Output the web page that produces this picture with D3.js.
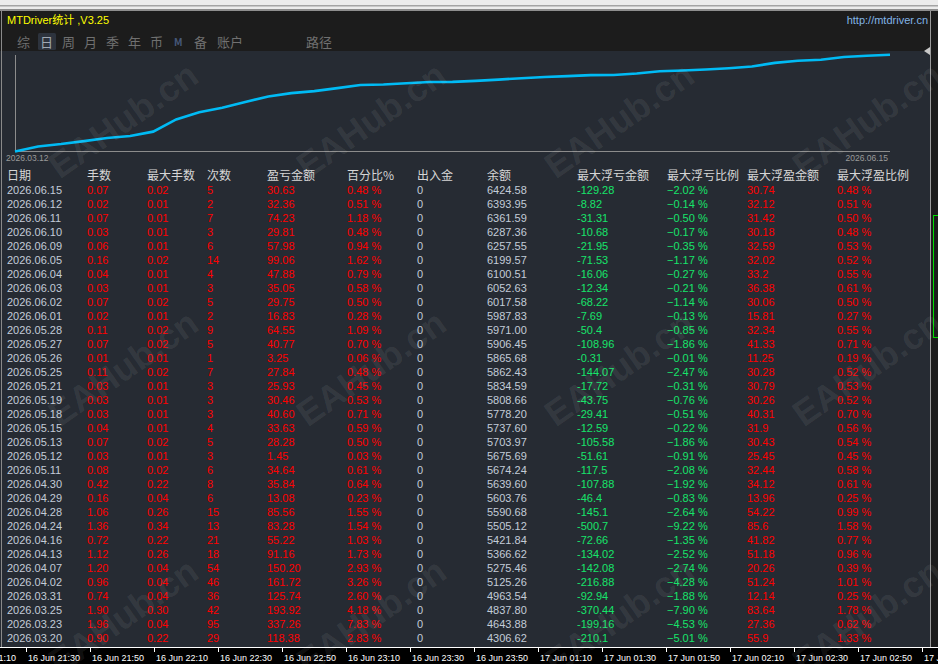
<!DOCTYPE html>
<html lang="zh">
<head>
<meta charset="UTF-8">
<title>MTDriver统计</title>
<script src="https://d3js.org/d3.v7.min.js"></script>
<style>
  body { margin: 0; background: #1c1c1c; overflow: hidden; }
  svg { display: block; font-family: "Liberation Sans", Arial, "Noto Sans CJK SC", sans-serif; }
  .cjk { font-family: "Noto Sans CJK SC", "Liberation Sans", sans-serif; }
</style>
</head>
<body>
<svg width="938" height="664"></svg>
<script>
// daily stats, newest first (as listed in the panel)
const dates = ["2026.06.15","2026.06.12","2026.06.11","2026.06.10","2026.06.09","2026.06.05","2026.06.04","2026.06.03","2026.06.02","2026.06.01","2026.05.28","2026.05.27","2026.05.26","2026.05.25","2026.05.21","2026.05.19","2026.05.18","2026.05.15","2026.05.13","2026.05.12","2026.05.11","2026.04.30","2026.04.29","2026.04.28","2026.04.24","2026.04.16","2026.04.13","2026.04.07","2026.04.02","2026.03.31","2026.03.25","2026.03.23","2026.03.20"];
const lots = [0.07,0.02,0.07,0.03,0.06,0.16,0.04,0.03,0.07,0.02,0.11,0.07,0.01,0.11,0.03,0.03,0.03,0.04,0.07,0.03,0.08,0.42,0.16,1.06,1.36,0.72,1.12,1.20,0.96,0.74,1.90,1.96,0.90];
const maxLots = [0.02,0.01,0.01,0.01,0.01,0.02,0.01,0.01,0.02,0.01,0.02,0.02,0.01,0.02,0.01,0.01,0.01,0.01,0.02,0.01,0.02,0.22,0.04,0.26,0.34,0.22,0.26,0.04,0.04,0.04,0.30,0.04,0.22];
const trades = [5,2,7,3,6,14,4,3,5,2,9,5,1,7,3,3,3,4,5,3,6,8,6,15,13,21,18,54,46,36,42,95,29];
const profit = [30.63,32.36,74.23,29.81,57.98,99.06,47.88,35.05,29.75,16.83,64.55,40.77,3.25,27.84,25.93,30.46,40.60,33.63,28.28,1.45,34.64,35.84,13.08,85.56,83.28,55.22,91.16,150.20,161.72,125.74,193.92,337.26,118.38];
const profitPct = [0.48,0.51,1.18,0.48,0.94,1.62,0.79,0.58,0.50,0.28,1.09,0.70,0.06,0.48,0.45,0.53,0.71,0.59,0.50,0.03,0.61,0.64,0.23,1.55,1.54,1.03,1.73,2.93,3.26,2.60,4.18,7.83,2.83];
const deposits = [0,0,0,0,0,0,0,0,0,0,0,0,0,0,0,0,0,0,0,0,0,0,0,0,0,0,0,0,0,0,0,0,0];
const balance = [6424.58,6393.95,6361.59,6287.36,6257.55,6199.57,6100.51,6052.63,6017.58,5987.83,5971.00,5906.45,5865.68,5862.43,5834.59,5808.66,5778.20,5737.60,5703.97,5675.69,5674.24,5639.60,5603.76,5590.68,5505.12,5421.84,5366.62,5275.46,5125.26,4963.54,4837.80,4643.88,4306.62];
const maxLoss = [-129.28,-8.82,-31.31,-10.68,-21.95,-71.53,-16.06,-12.34,-68.22,-7.69,-50.4,-108.96,-0.31,-144.07,-17.72,-43.75,-29.41,-12.59,-105.58,-51.61,-117.5,-107.88,-46.4,-145.1,-500.7,-72.66,-134.02,-142.08,-216.88,-92.94,-370.44,-199.16,-210.1];
const maxLossPct = [-2.02,-0.14,-0.50,-0.17,-0.35,-1.17,-0.27,-0.21,-1.14,-0.13,-0.85,-1.86,-0.01,-2.47,-0.31,-0.76,-0.51,-0.22,-1.86,-0.91,-2.08,-1.92,-0.83,-2.64,-9.22,-1.35,-2.52,-2.74,-4.28,-1.88,-7.90,-4.53,-5.01];
const maxGain = [30.74,32.12,31.42,30.18,32.59,32.02,33.2,36.38,30.06,15.81,32.34,41.33,11.25,30.28,30.79,30.26,40.31,31.9,30.43,25.45,32.44,34.12,13.96,54.22,85.6,41.82,51.18,20.26,51.24,12.14,83.64,27.36,55.9];
const maxGainPct = [0.48,0.51,0.50,0.48,0.53,0.52,0.55,0.61,0.50,0.27,0.55,0.71,0.19,0.52,0.53,0.52,0.70,0.56,0.54,0.45,0.58,0.61,0.25,0.99,1.58,0.77,0.96,0.39,1.01,0.25,1.78,0.62,1.33];

// balance of the days before 2026.03.20
const earlyBalance = [3760, 3900, 3965, 4045, 4130, 4188];

const headers = ["日期","手数","最大手数","次数","盈亏金额","百分比%","出入金","余额","最大浮亏金额","最大浮亏比例","最大浮盈金额","最大浮盈比例"];
const tabs = ["综","日","周","月","季","年","币","M","备","账户","路径"];
const timeLabels = ["16 Jun 21:10","16 Jun 21:30","16 Jun 21:50","16 Jun 22:10","16 Jun 22:30","16 Jun 22:50","16 Jun 23:10","16 Jun 23:30","16 Jun 23:50","17 Jun 01:10","17 Jun 01:30","17 Jun 01:50","17 Jun 02:10","17 Jun 02:30","17 Jun 02:50","17 Jun 03:10"];

const W = 938, H = 664;
const svg = d3.select("svg");

// window frame
svg.append("rect").attr("width", W).attr("height", H).attr("fill", "#1c1c1c");
svg.append("rect").attr("width", W).attr("height", 9).attr("fill", "#ececec");
svg.append("rect").attr("y", 5).attr("width", W).attr("height", 1.5).attr("fill", "#a4a4a4");
svg.append("rect").attr("y", 9.5).attr("width", W).attr("height", 1).attr("fill", "#ffffff");
svg.append("rect").attr("y", 51).attr("width", 930).attr("height", 596).attr("fill", "#262b33");
svg.append("line").attr("x1", 1.5).attr("x2", 1.5).attr("y1", 11).attr("y2", 647).attr("stroke", "#8a8a8a");
svg.append("line").attr("x1", 930.5).attr("x2", 930.5).attr("y1", 11).attr("y2", 647).attr("stroke", "#9a9a9a");
svg.append("rect").attr("x", 933.5).attr("y", 215.5).attr("width", 10).attr("height", 122)
  .attr("fill", "none").attr("stroke", "#00dd00");
svg.append("path").attr("d", "M924,51L930,47L930,55Z").attr("fill", "#c8c8c8");

// title bar
svg.append("text").attr("x", 7).attr("y", 24).attr("fill", "#ffff00")
  .attr("font-size", 11).text("MTDriver统计 ,V3.25");
svg.append("text").attr("x", 928).attr("y", 24).attr("text-anchor", "end")
  .attr("fill", "#82b4e6").attr("font-size", 11).text("http://mtdriver.cn");

// tabs
const tabX = [17, 40, 62, 84, 106, 128, 150, 174, 194, 217, 306];
svg.append("rect").attr("x", 38).attr("y", 33).attr("width", 18).attr("height", 17)
  .attr("rx", 1.5).attr("fill", "#2d333d");
svg.selectAll(".tab").data(tabs).join("text")
  .attr("class", "tab cjk")
  .attr("x", (d, i) => tabX[i])
  .attr("y", d => d === "M" ? 46 : 47)
  .attr("font-size", d => d === "M" ? 10 : 13)
  .attr("font-weight", d => d === "M" ? "bold" : "normal")
  .attr("fill", (d, i) => d === "M" ? "#46587a" : (i === 1 ? "#a0a8b2" : "#707070"))
  .text(d => d);

// equity curve
const curve = earlyBalance.concat(balance.slice().reverse());
const cx = d3.scaleLinear().domain([0, curve.length - 1]).range([15, 890]);
const cy = d3.scaleLinear().domain(d3.extent(curve)).range([151.5, 54.7]);

svg.append("line").attr("x1", 15.5).attr("x2", 15.5).attr("y1", 55).attr("y2", 151.5).attr("stroke", "#8c8c8c");
svg.append("line").attr("x1", 15).attr("x2", 890).attr("y1", 151.5).attr("y2", 151.5).attr("stroke", "#8c8c8c");
svg.append("text").attr("x", 6).attr("y", 161).attr("font-size", 8.5).attr("fill", "#9a9a9a").text("2026.03.12");
svg.append("text").attr("x", 888).attr("y", 161).attr("text-anchor", "end")
  .attr("font-size", 8.5).attr("fill", "#9a9a9a").text("2026.06.15");

svg.append("path")
  .datum(curve)
  .attr("fill", "none")
  .attr("stroke", "#00bbf5")
  .attr("stroke-width", 2.6)
  .attr("d", d3.line().x((d, i) => cx(i)).y(d => cy(d)));

// table
const colX = d3.scaleOrdinal().domain(headers)
  .range([7, 87, 147, 207, 267, 347, 417, 487, 577, 667, 747, 837]);
const rowY = d3.scaleLinear().domain([0, 1]).range([193.5, 207.5]);

const red = "#ff0000", green = "#16e46a", grey = "#c3cbd8";
const f2 = d3.format(".2f");
const pctFmt = v => f2(v) + " %";
const plain = v => String(v);

const columns = [
  { key: "日期", values: dates, fmt: plain, color: grey },
  { key: "手数", values: lots, fmt: f2, color: red },
  { key: "最大手数", values: maxLots, fmt: f2, color: red },
  { key: "次数", values: trades, fmt: plain, color: red },
  { key: "盈亏金额", values: profit, fmt: f2, color: red },
  { key: "百分比%", values: profitPct, fmt: pctFmt, color: red },
  { key: "出入金", values: deposits, fmt: plain, color: grey },
  { key: "余额", values: balance, fmt: f2, color: grey },
  { key: "最大浮亏金额", values: maxLoss, fmt: plain, color: green },
  { key: "最大浮亏比例", values: maxLossPct, fmt: pctFmt, color: green },
  { key: "最大浮盈金额", values: maxGain, fmt: plain, color: red },
  { key: "最大浮盈比例", values: maxGainPct, fmt: pctFmt, color: red }
];

svg.selectAll(".hdr").data(headers).join("text")
  .attr("class", "hdr cjk")
  .attr("x", d => colX(d))
  .attr("y", 180)
  .attr("font-size", 12)
  .attr("fill", "#d6d6d6")
  .text(d => d);

const cols = svg.selectAll(".col").data(columns).join("g").attr("class", "col");
cols.selectAll("text")
  .data(c => c.values.map(v => ({ v, c })))
  .join("text")
  .attr("x", d => colX(d.c.key))
  .attr("y", (d, i) => rowY(i))
  .attr("font-size", 11)
  .attr("fill", d => d.c.color)
  .text(d => d.c.fmt(d.v));

// bottom time axis
svg.append("rect").attr("y", 647).attr("width", W).attr("height", 17).attr("fill", "#000");
svg.append("line").attr("x1", 0).attr("x2", W).attr("y1", 647.5).attr("y2", 647.5).attr("stroke", "#ffffff");
const tx = d3.scalePoint().domain(timeLabels).range([-38, 922]);
svg.selectAll(".tk").data(timeLabels).join("line")
  .attr("class", "tk")
  .attr("x1", d => tx(d) + 0.5).attr("x2", d => tx(d) + 0.5)
  .attr("y1", 647).attr("y2", 652).attr("stroke", "#ffffff");
svg.selectAll(".tl").data(timeLabels).join("text")
  .attr("class", "tl")
  .attr("x", d => tx(d) + 2)
  .attr("y", 660.5)
  .attr("font-size", 9)
  .attr("fill", "#ffffff")
  .text(d => d);

// watermark
const wm = svg.append("g").attr("pointer-events", "none");
d3.range(3).forEach(r => {
  d3.range(4).forEach(c => {
    wm.append("text")
      .attr("transform", `translate(${123 + 248 * c},${120 + 248 * r}) rotate(-35)`)
      .attr("text-anchor", "middle")
      .attr("dy", "0.35em")
      .attr("font-size", 36)
      .attr("font-weight", "bold")
      .attr("fill", "#ffffff")
      .attr("fill-opacity", 0.08)
      .text("EAHub.cn");
  });
});
</script>
</body>
</html>
